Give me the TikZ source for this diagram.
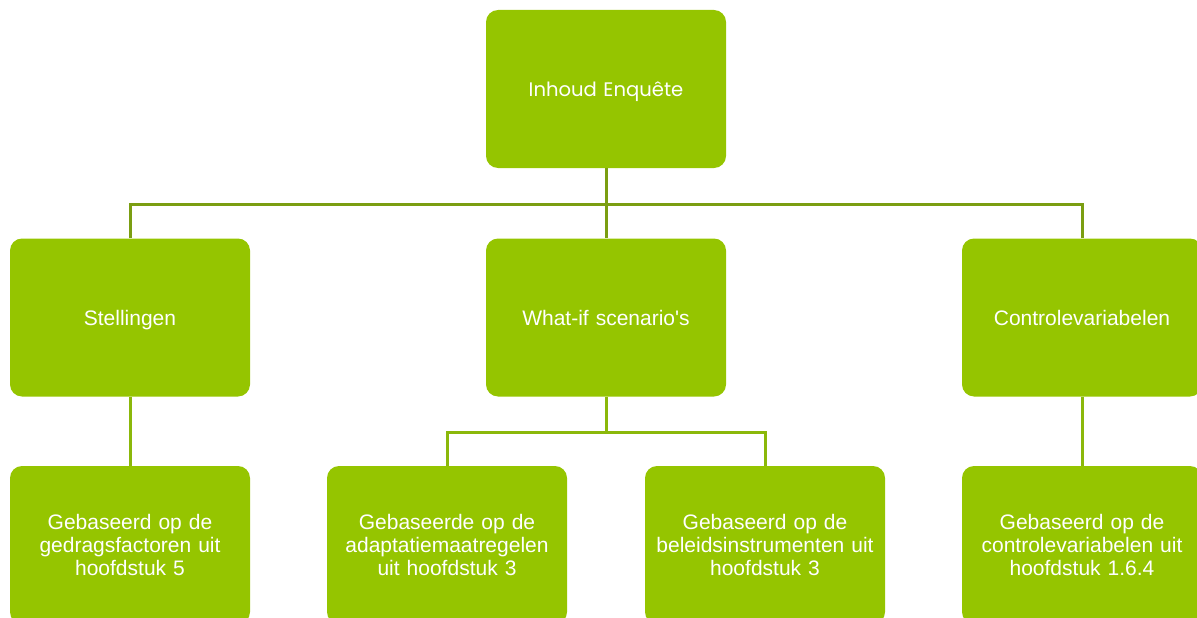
\documentclass[tikz,border=0pt]{standalone}
\usepackage{fontspec}
\setmainfont{Liberation Sans}
\newfontfamily\headfont{Poppins}
\definecolor{boxgreen}{HTML}{95C500}
\definecolor{topline}{HTML}{7B9E12}
\definecolor{subline}{HTML}{8BB80A}
\begin{document}
\begin{tikzpicture}[x=1pt,y=-1pt,
  card/.style={rectangle, fill=boxgreen, rounded corners=12pt,
    minimum width=240pt, minimum height=158pt, inner sep=0pt,
    text=white, align=center, text width=230pt,
    font=\fontsize{21}{23}\selectfont},
  oneline/.style={text height=15pt, text depth=0pt},
  link/.style={line width=3pt, draw=#1},
]
\clip (0,0) rectangle (1197,618);
\useasboundingbox (0,0) rectangle (1197,618);

% top level
\node[card, oneline, font=\headfont\fontsize{19.6}{23}\selectfont] (root) at (606,89) {Inhoud Enquête};

% second level
\node[card, oneline] (stel) at (130,317.5) {Stellingen};
\node[card, oneline] (what) at (606,317.5) {What-if scenario\textquotesingle s};
\node[card, oneline] (ctrl) at (1082,317.5) {Controlevariabelen};

% third level
\node[card] (gedrag) at (130,545) {Gebaseerd op de\\gedragsfactoren uit\\hoofdstuk 5};
\node[card] (adapt) at (447,545) {Gebaseerde op de\\adaptatiemaatregelen\\uit hoofdstuk 3};
\node[card] (beleid) at (765,545) {Gebaseerd op de\\beleidsinstrumenten uit\\hoofdstuk 3};
\node[card] (contr) at (1082,545) {Gebaseerd op de\\controlevariabelen uit\\hoofdstuk 1.6.4};

% connectors from the root
\coordinate (bus1) at (606,204);
\draw[link=topline] (root.south) -- (bus1);
\draw[link=topline] (stel.north) |- (bus1);
\draw[link=topline] (ctrl.north) |- (bus1);
\draw[link=topline] (bus1) -- (what.north);

% connectors to the third level
\draw[link=subline] (stel.south) -- (gedrag.north);
\draw[link=subline] (ctrl.south) -- (contr.north);
\coordinate (bus2) at (606,432);
\draw[link=subline] (what.south) -- (bus2);
\draw[link=subline] (adapt.north) |- (bus2);
\draw[link=subline] (beleid.north) |- (bus2);
\end{tikzpicture}
\end{document}
